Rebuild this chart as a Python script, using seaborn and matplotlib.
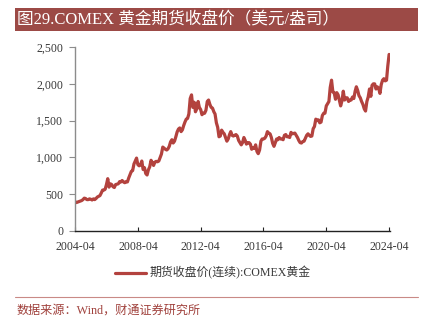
import matplotlib
matplotlib.use("Agg")
import matplotlib.pyplot as plt
from matplotlib.patches import Rectangle
from matplotlib.lines import Line2D
import numpy as np
import pandas as pd
import seaborn as sns

# Monthly COMEX gold futures close (USD/oz), 2004-04 .. 2024-04
prices = [
    395, 385, 392, 398, 405, 412, 425, 445, 440,                      # 2004
    425, 425, 435, 430, 420, 435, 425, 440, 460, 470, 480, 515,       # 2005
    555, 555, 565, 630, 710, 595, 640, 630, 600, 590, 630, 635,       # 2006
    640, 670, 665, 685, 665, 655, 670, 665, 720, 765, 810, 820,       # 2007
    910, 950, 990, 900, 885, 895, 950, 835, 860, 780, 760, 830,       # 2008
    870, 960, 930, 890, 935, 945, 940, 950, 1000, 1045, 1140, 1125,   # 2009
    1110, 1100, 1115, 1150, 1210, 1240, 1195, 1220, 1280, 1345, 1385, 1400,  # 2010
    1350, 1375, 1430, 1480, 1520, 1530, 1590, 1800, 1850, 1680, 1750, 1620,  # 2011
    1660, 1760, 1680, 1650, 1580, 1600, 1600, 1640, 1760, 1780, 1720, 1680,  # 2012
    1670, 1620, 1590, 1470, 1410, 1280, 1290, 1370, 1340, 1320, 1270, 1220,  # 2013
    1250, 1310, 1350, 1300, 1290, 1300, 1310, 1290, 1230, 1200, 1170, 1200,  # 2014
    1270, 1230, 1180, 1200, 1200, 1180, 1110, 1130, 1120, 1170, 1080, 1050,  # 2015
    1100, 1220, 1250, 1250, 1260, 1290, 1350, 1330, 1320, 1270, 1190, 1150,  # 2016
    1200, 1250, 1240, 1270, 1250, 1250, 1240, 1300, 1310, 1280, 1280, 1270,  # 2017
    1340, 1320, 1325, 1330, 1300, 1270, 1230, 1200, 1195, 1215, 1220, 1260,  # 2018
    1300, 1320, 1300, 1285, 1290, 1390, 1420, 1520, 1500, 1510, 1470, 1480,  # 2019
    1570, 1600, 1600, 1700, 1730, 1760, 1950, 2050, 1890, 1880, 1790, 1880,  # 2020
    1850, 1770, 1700, 1770, 1900, 1780, 1810, 1810, 1760, 1780, 1780, 1820,  # 2021
    1800, 1900, 1960, 1910, 1840, 1810, 1760, 1720, 1660, 1630, 1760, 1820,  # 2022
    1930, 1830, 1980, 2000, 2000, 1930, 1960, 1940, 1870, 1990, 2050, 2070,  # 2023
    2040, 2050, 2240, 2400,                                                   # 2024
]
dates = pd.date_range("2004-04-01", periods=len(prices), freq="MS")
tick_labels = ["2004-04", "2008-04", "2012-04", "2016-04", "2020-04", "2024-04"]
series_name = "期货收盘价(连续):COMEX黄金"
title = "图29.COMEX 黄金期货收盘价（美元/盎司）"
source = "数据来源：Wind，财通证券研究所"

df = pd.DataFrame({"date": dates, "price": prices})

sns.set_theme(style="white")
plt.rcParams["font.family"] = ["Liberation Serif", "Noto Sans CJK SC"]

LINE = "#B3423E"
BAR = "#9C4A46"
TEXT = "#3A3A3A"

fig = plt.figure(figsize=(4.29, 3.27), dpi=100)
ax = fig.add_axes([0.175, 0.294, 0.733, 0.562])

sns.lineplot(data=df, x="date", y="price", ax=ax, color=LINE, linewidth=2.3)

ax.set_ylim(0, 2500)
ax.set_yticks(np.arange(0, 2501, 500))
ax.yaxis.set_major_formatter(matplotlib.ticker.FuncFormatter(lambda v, p: f"{int(v):,}"))
ticks = pd.to_datetime(tick_labels)
ax.set_xlim(ticks[0], ticks[-1] + pd.Timedelta(days=10))
ax.set_xticks(ticks)
ax.set_xticklabels(tick_labels)
ax.set_xlabel("")
ax.set_ylabel("")

for s in ["top", "right"]:
    ax.spines[s].set_visible(False)
ax.spines["left"].set_color("#8C8C8C")
ax.spines["left"].set_linewidth(1.0)
ax.spines["bottom"].set_color("#222222")
ax.spines["bottom"].set_linewidth(1.0)
ax.tick_params(axis="y", direction="out", length=4.5, width=0.8, color="#8C8C8C",
               labelsize=8.6, labelcolor=TEXT, pad=4, left=True)
ax.tick_params(axis="x", direction="in", length=3, width=0.8, color="#222222",
               labelsize=8.6, labelcolor=TEXT, pad=7, bottom=True)

# title banner
fig.patches.append(Rectangle((15 / 429, 1 - 31 / 327), 403 / 429, 23 / 327,
                             transform=fig.transFigure, facecolor=BAR, edgecolor="none"))
fig.text(17 / 429, 1 - 20 / 327, title, color="white", fontsize=12, va="center", ha="left")

# legend
fig.lines.append(Line2D([115 / 429, 146 / 429], [1 - 273 / 327] * 2, transform=fig.transFigure,
                        color=LINE, linewidth=2.3))
fig.text(150 / 429, 1 - 273 / 327, series_name, fontsize=8.6, color=TEXT,
         va="center", ha="left")

# source rule and note
fig.lines.append(Line2D([15 / 429, 418 / 429], [1 - 297 / 327] * 2, transform=fig.transFigure,
                        color="#C98A86", linewidth=0.8))
fig.text(17 / 429, 1 - 311 / 327, source, fontsize=8.7, color="#A0413C", va="center", ha="left")

fig.savefig("out.png", dpi=100)
